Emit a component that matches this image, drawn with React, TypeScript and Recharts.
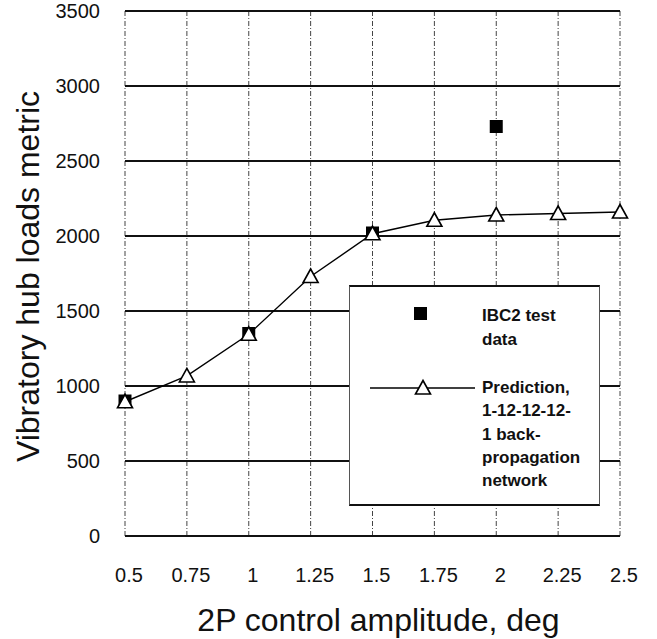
import React from "react";
import {
  ComposedChart,
  Line,
  Scatter,
  XAxis,
  YAxis,
  CartesianGrid,
  Legend,
  Label,
} from "recharts";

const amplitudes = [0.5, 0.75, 1, 1.25, 1.5, 1.75, 2, 2.25, 2.5];
const predictedLoads = [895, 1067, 1345, 1730, 2015, 2105, 2140, 2150, 2160];
const testAmplitudes = [0.5, 1, 1.5, 2];
const testLoads = [900, 1350, 2020, 2730];
const xTicks = [0.5, 0.75, 1, 1.25, 1.5, 1.75, 2, 2.25, 2.5];
const yTicks = [0, 500, 1000, 1500, 2000, 2500, 3000, 3500];
const testLabelLines = ["IBC2 test", "data"];
const predictionLabelLines = ["Prediction,", "1-12-12-12-", "1 back-", "propagation", "network"];
const xTitle = "2P control amplitude, deg";
const yTitle = "Vibratory hub loads metric";

const lineData = amplitudes.map((x, i) => ({ x, pred: predictedLoads[i] }));
const testData = testAmplitudes.map((x, i) => ({ x, y: testLoads[i] }));

const FONT = "'Liberation Sans', Arial, Helvetica, sans-serif";

const TriangleDot = (props: any) => {
  const { cx, cy } = props;
  if (cx == null || cy == null) return null;
  return (
    <path
      d={`M${cx},${cy - 7.5} L${cx + 7.5},${cy + 6} L${cx - 7.5},${cy + 6} Z`}
      fill="#fff"
      stroke="#000"
      strokeWidth={1.6}
    />
  );
};

const SquareShape = (props: any) => {
  const { cx, cy } = props;
  if (cx == null || cy == null) return null;
  return <rect x={cx - 6.5} y={cy - 6.5} width={13} height={13} fill="#000" />;
};

const XTick = (props: any) => {
  const { x, y, payload } = props;
  return (
    <text
      x={x + 4}
      y={y + 39}
      textAnchor="middle"
      dominantBaseline="central"
      fontFamily={FONT}
      fontSize={20}
      fill="#111"
    >
      {String(payload.value)}
    </text>
  );
};

const LegendBox = () => (
  <div
    style={{
      width: 251,
      height: 221,
      boxSizing: "border-box",
      background: "#fff",
      borderTop: "2px solid #111",
      borderBottom: "2px solid #111",
      borderLeft: "1px solid #555",
      borderRight: "1px solid #555",
      position: "relative",
      fontFamily: FONT,
      fontWeight: "bold",
      fontSize: 17,
      color: "#111",
    }}
  >
    <svg width={249} height={217} style={{ position: "absolute", left: 0, top: 0 }}>
      <rect x={64} y={20} width={13} height={13} fill="#000" />
      <line x1={20} y1={101} x2={125} y2={101} stroke="#000" strokeWidth={1.6} />
      <path d="M73,93.5 L80.5,107 L65.5,107 Z" fill="#fff" stroke="#000" strokeWidth={1.6} />
    </svg>
    <div style={{ position: "absolute", left: 132, top: 17, lineHeight: "24px", whiteSpace: "nowrap" }}>
      {testLabelLines.map((t) => (
        <div key={t}>{t}</div>
      ))}
    </div>
    <div style={{ position: "absolute", left: 132, top: 89, lineHeight: "23.3px", whiteSpace: "nowrap" }}>
      {predictionLabelLines.map((t) => (
        <div key={t}>{t}</div>
      ))}
    </div>
  </div>
);

export default function App() {
  return (
    <div style={{ position: "absolute", left: 0, top: 0, background: "#fff" }}>
      <ComposedChart
        width={657}
        height={639}
        data={lineData}
        margin={{ top: 11, right: 37, left: 0, bottom: 0 }}
      >
        <CartesianGrid
          horizontal={false}
          stroke="#444"
          strokeWidth={1}
          strokeDasharray="5 2 1 2"
        />
        <CartesianGrid vertical={false} stroke="#111" strokeWidth={2} />
        <XAxis
          dataKey="x"
          type="number"
          domain={[0.5, 2.5]}
          ticks={xTicks}
          tick={<XTick />}
          tickLine={false}
          tickSize={0}
          tickMargin={0}
          axisLine={{ stroke: "#111", strokeWidth: 2 }}
          height={103}
          interval={0}
        >
          <Label
            content={(p: any) => {
              const vb = p.viewBox || {};
              return (
                <text
                  x={vb.x + vb.width / 2 + 6}
                  y={631}
                  textAnchor="middle"
                  fontFamily={FONT}
                  fontSize={32}
                  fill="#111"
                >
                  {xTitle}
                </text>
              );
            }}
          />
        </XAxis>
        <YAxis
          type="number"
          domain={[0, 3500]}
          ticks={yTicks}
          tickLine={false}
          tickSize={0}
          tickMargin={25}
          axisLine={false}
          width={125}
          interval={0}
          tick={{ fontFamily: FONT, fontSize: 20, fill: "#111" }}
        >
          <Label
            content={(p: any) => {
              const vb = p.viewBox || {};
              const cy = vb.y + vb.height / 2 + 3;
              return (
                <text
                  x={39}
                  y={cy}
                  transform={`rotate(-90 39 ${cy})`}
                  textAnchor="middle"
                  fontFamily={FONT}
                  fontSize={32}
                  fill="#111"
                >
                  {yTitle}
                </text>
              );
            }}
          />
        </YAxis>
        <Legend
          layout="horizontal"
          verticalAlign="middle"
          align="center"
          content={<LegendBox />}
          wrapperStyle={{ left: 349, top: 285, width: 251, height: 221 }}
        />
        <Scatter
          name="IBC2 test data"
          data={testData}
          dataKey="y"
          shape={<SquareShape />}
          isAnimationActive={false}
        />
        <Line
          name="Prediction"
          dataKey="pred"
          stroke="#000"
          strokeWidth={1.4}
          dot={<TriangleDot />}
          activeDot={false}
          isAnimationActive={false}
        />
      </ComposedChart>
    </div>
  );
}
